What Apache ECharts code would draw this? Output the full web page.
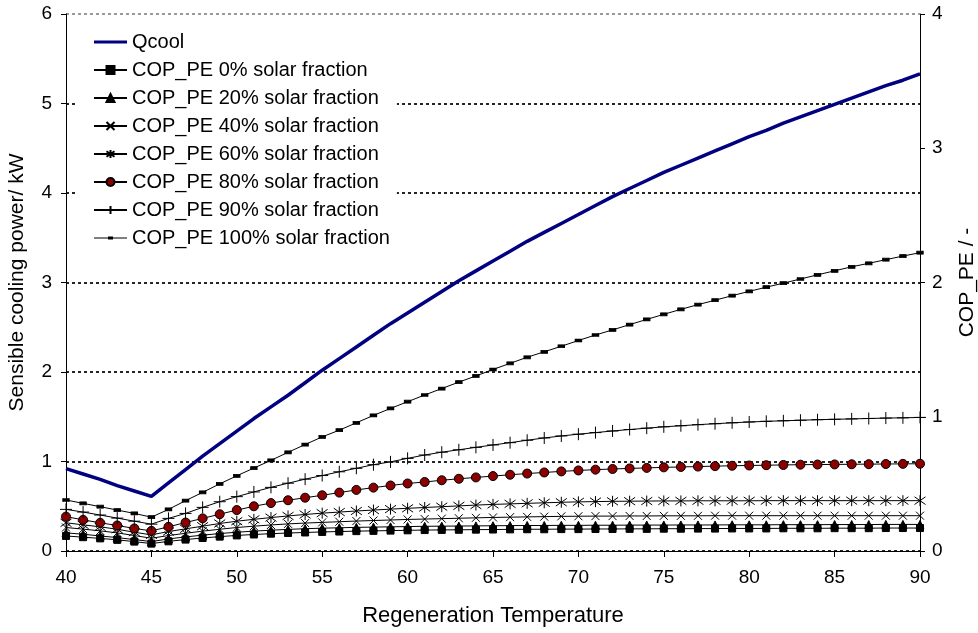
<!DOCTYPE html>
<html>
<head>
<meta charset="utf-8">
<script src="https://cdn.jsdelivr.net/npm/echarts@6/dist/echarts.min.js"></script>
<style>
html,body{margin:0;padding:0;background:#fff;}
#chart{width:978px;height:633px;}
</style>
</head>
<body>
<div id="chart"></div>
<script>
const temps = [40,41,42,43,44,45,46,47,48,49,50,51,52,53,54,55,56,57,58,59,60,61,62,63,64,65,66,67,68,69,70,71,72,73,74,75,76,77,78,79,80,81,82,83,84,85,86,87,88,89,90];

const qcool = [0.92,0.86,0.80,0.73,0.67,0.61,0.76,0.91,1.06,1.20,1.34,1.48,1.61,1.74,1.88,2.02,2.15,2.28,2.41,2.54,2.66,2.78,2.90,3.02,3.13,3.24,3.35,3.46,3.56,3.66,3.76,3.86,3.96,4.05,4.14,4.23,4.31,4.39,4.47,4.55,4.63,4.70,4.78,4.85,4.92,4.99,5.06,5.13,5.20,5.26,5.33];

const cop0 = [0.112,0.103,0.094,0.083,0.070,0.055,0.072,0.085,0.097,0.107,0.116,0.123,0.129,0.134,0.138,0.142,0.145,0.148,0.150,0.152,0.154,0.156,0.157,0.158,0.159,0.160,0.161,0.162,0.162,0.163,0.163,0.164,0.164,0.165,0.165,0.166,0.166,0.167,0.167,0.168,0.168,0.168,0.169,0.169,0.169,0.170,0.170,0.170,0.171,0.171,0.171];

const cop20 = [0.135,0.125,0.112,0.100,0.085,0.070,0.090,0.105,0.118,0.130,0.140,0.148,0.155,0.161,0.166,0.170,0.173,0.176,0.178,0.180,0.182,0.184,0.185,0.186,0.187,0.188,0.189,0.190,0.190,0.191,0.191,0.192,0.192,0.193,0.193,0.193,0.194,0.194,0.194,0.195,0.195,0.195,0.196,0.196,0.196,0.197,0.197,0.197,0.198,0.198,0.198];

const cop40 = [0.175,0.163,0.150,0.135,0.115,0.095,0.115,0.132,0.148,0.162,0.175,0.185,0.194,0.202,0.208,0.213,0.218,0.223,0.227,0.231,0.235,0.238,0.241,0.244,0.247,0.250,0.252,0.254,0.256,0.258,0.259,0.260,0.260,0.261,0.261,0.262,0.262,0.262,0.263,0.263,0.263,0.263,0.263,0.263,0.263,0.263,0.263,0.263,0.263,0.263,0.263];

const cop60 = [0.210,0.195,0.180,0.162,0.140,0.120,0.145,0.165,0.185,0.205,0.222,0.236,0.249,0.261,0.272,0.282,0.290,0.298,0.305,0.312,0.318,0.324,0.330,0.336,0.342,0.347,0.351,0.355,0.359,0.363,0.366,0.368,0.370,0.371,0.372,0.373,0.373,0.374,0.374,0.374,0.374,0.375,0.375,0.375,0.375,0.375,0.375,0.375,0.375,0.375,0.375];

const cop80 = [0.256,0.232,0.210,0.190,0.168,0.150,0.180,0.212,0.243,0.274,0.305,0.333,0.357,0.378,0.397,0.415,0.435,0.455,0.472,0.488,0.503,0.514,0.527,0.538,0.548,0.558,0.568,0.577,0.585,0.593,0.600,0.606,0.611,0.615,0.619,0.623,0.626,0.629,0.632,0.635,0.637,0.639,0.641,0.643,0.644,0.645,0.646,0.647,0.648,0.649,0.650];

const cop90 = [0.310,0.290,0.268,0.245,0.222,0.200,0.243,0.280,0.325,0.367,0.405,0.440,0.474,0.505,0.535,0.562,0.590,0.616,0.643,0.664,0.690,0.715,0.736,0.754,0.772,0.790,0.807,0.825,0.842,0.857,0.870,0.882,0.894,0.905,0.915,0.925,0.933,0.941,0.948,0.955,0.961,0.966,0.970,0.974,0.978,0.981,0.984,0.987,0.990,0.992,0.995];

const cop100 = [0.380,0.355,0.330,0.305,0.280,0.252,0.310,0.375,0.437,0.500,0.560,0.618,0.675,0.735,0.793,0.850,0.900,0.955,1.010,1.062,1.112,1.162,1.210,1.258,1.304,1.352,1.398,1.443,1.484,1.525,1.568,1.609,1.647,1.686,1.725,1.763,1.800,1.835,1.868,1.902,1.934,1.965,1.995,2.026,2.057,2.087,2.117,2.143,2.170,2.197,2.222];

const seriesNames = ['Qcool','COP_PE 0% solar fraction','COP_PE 20% solar fraction','COP_PE 40% solar fraction','COP_PE 60% solar fraction','COP_PE 80% solar fraction','COP_PE 90% solar fraction','COP_PE 100% solar fraction'];
const leftTicks = {min:0, max:6, interval:1};
const rightTicks = {min:0, max:4, interval:1};
const xTicks = {min:40, max:90, interval:5};

const FONT = '"Liberation Sans", Arial, sans-serif';
const pair = arr => temps.map((t,i) => [t, arr[i]]);

const copStyle = (name, arr, symbol, size, extra) => Object.assign({
  name: name,
  type: 'line',
  yAxisIndex: 1,
  data: pair(arr),
  symbol: symbol,
  symbolSize: size,
  showAllSymbol: true,
  lineStyle: {color:'#000', width:1},
  itemStyle: {color:'#000', borderColor:'#000', borderWidth:1},
  emphasis: {disabled:true},
  z: 3
}, extra || {});

const CORNERS = ' M0,0L0.02,0L0.02,0.02Z M32.98,9.98L33,9.98L33,10Z';
const legendData = seriesNames.map((n, i) => {
  if (i === 0) return {name:n, icon:'path://M0,3.5L33,3.5L33,6.5L0,6.5Z' + CORNERS, itemStyle:{borderWidth:0}};
  if (i === 7) return {name:n, icon:'path://M0,4.4L33,4.4L33,5.6L0,5.6Z M14,3.5L19,3.5L19,6.5L14,6.5Z' + CORNERS, itemStyle:{borderWidth:0, color:'#000'}};
  return {name:n};
});

const chart = echarts.init(document.getElementById('chart'), null, {renderer:'canvas'});
chart.setOption({
  animation: false,
  backgroundColor: '#fff',
  textStyle: {fontFamily: FONT, color:'#000'},
  grid: {left:66, right:58, top:14, bottom:82, containLabel:false, outerBoundsMode:'none'},
  legend: {
    orient: 'vertical',
    left: 78, top: 24,
    padding: [8,7,6,15],
    backgroundColor: '#fff',
    itemWidth: 33, itemHeight: 10, itemGap: 8,
    textStyle: {fontSize:20, fontFamily: FONT, color:'#000'},
    data: legendData,
    z: 10
  },
  xAxis: {
    type:'value', min:xTicks.min, max:xTicks.max, interval:xTicks.interval,
    name:'Regeneration Temperature', nameLocation:'middle', nameGap:54,
    nameTextStyle:{fontSize:22, fontFamily:FONT, color:'#000'},
    axisLine:{show:true, lineStyle:{color:'#000', width:1}},
    axisTick:{show:true, length:6, lineStyle:{color:'#000'}},
    axisLabel:{fontSize:19, fontFamily:FONT, color:'#000', margin:17},
    splitLine:{show:false}
  },
  yAxis: [
    {
      type:'value', position:'left', min:leftTicks.min, max:leftTicks.max, interval:leftTicks.interval,
      name:'Sensible cooling power/ kW', nameLocation:'middle', nameGap:38,
      nameTextStyle:{fontSize:21, fontFamily:FONT, color:'#000'},
      axisLine:{show:true, lineStyle:{color:'#000', width:1}},
      axisTick:{show:true, length:5, lineStyle:{color:'#000'}},
      axisLabel:{fontSize:19, fontFamily:FONT, color:'#000', margin:14},
      splitLine:{show:true, lineStyle:{type:[3,3], width:1.7, color:['#000','#000','#000','#000','#000','#000','#888']}}
    },
    {
      type:'value', position:'right', min:rightTicks.min, max:rightTicks.max, interval:rightTicks.interval,
      name:'COP_PE / -', nameLocation:'middle', nameGap:37,
      nameTextStyle:{fontSize:21, fontFamily:FONT, color:'#000'},
      axisLine:{show:true, lineStyle:{color:'#000', width:1}},
      axisTick:{show:true, length:5, lineStyle:{color:'#000'}},
      axisLabel:{fontSize:19, fontFamily:FONT, color:'#000', margin:12},
      splitLine:{show:false}
    }
  ],
  series: [
    {
      name: seriesNames[0], type:'line', yAxisIndex:0, data: pair(qcool),
      symbol:'none',
      lineStyle:{color:'#000080', width:3.5},
      itemStyle:{color:'#000080'},
      emphasis:{disabled:true}, z:4
    },
    copStyle(seriesNames[1], cop0, 'rect', 7),
    copStyle(seriesNames[2], cop20, 'triangle', 8),
    copStyle(seriesNames[3], cop40, 'path://M0,0L10,10M10,0L0,10', 8),
    copStyle(seriesNames[4], cop60, 'path://M5,0L5,10M0,1.5L10,8.5M10,1.5L0,8.5', 11),
    copStyle(seriesNames[5], cop80, 'circle', 9, {itemStyle:{color:'#8B0000', borderColor:'#000', borderWidth:1}}),
    copStyle(seriesNames[6], cop90, 'path://M5,0L5,10M0,5L10,5', 12),
    copStyle(seriesNames[7], cop100, 'rect', [6,3])
  ]
});
</script>
</body>
</html>
